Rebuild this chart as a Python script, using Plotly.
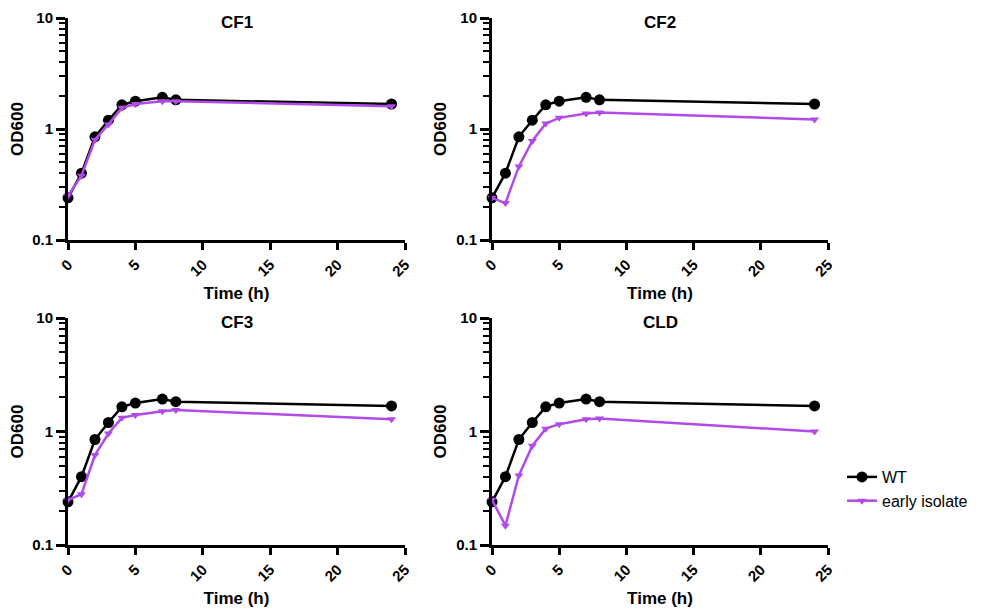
import plotly.graph_objects as go

# sampling times (h)
time_h = [0, 1, 2, 3, 4, 5, 7, 8, 24]

# OD600 readings
wt = [0.24, 0.40, 0.85, 1.20, 1.65, 1.78, 1.93, 1.83, 1.68]
cf1_early = [0.25, 0.38, 0.80, 1.10, 1.55, 1.68, 1.78, 1.78, 1.60]
cf2_early = [0.24, 0.215, 0.46, 0.78, 1.12, 1.26, 1.38, 1.41, 1.22]
cf3_early = [0.25, 0.28, 0.62, 0.96, 1.32, 1.40, 1.51, 1.55, 1.28]
cld_early = [0.25, 0.148, 0.41, 0.75, 1.06, 1.16, 1.28, 1.30, 1.00]

panel_names = ["CF1", "CF2", "CF3", "CLD"]
early_series = [cf1_early, cf2_early, cf3_early, cld_early]

W, H = 984, 614
OFF = 8  # page body margin
PURPLE = "#B04AE8"
FONT = "Liberation Sans, Arial, sans-serif"

# panel boxes in page pixels: (left, right, top, bottom)
boxes = [(68, 405, 18, 240), (492, 828, 18, 240),
         (68, 405, 318, 545), (492, 828, 318, 545)]


def fx(px):
    return (px - OFF) / W


def fy(py):
    return 1 - (py - OFF) / H


fig = go.Figure()
layout = {}

for i, (name, early, box) in enumerate(zip(panel_names, early_series, boxes)):
    n = "" if i == 0 else str(i + 1)
    xa, ya = "x" + n, "y" + n
    fig.add_trace(go.Scatter(
        x=time_h, y=wt, mode="lines+markers", name="WT",
        line=dict(color="black", width=2.5),
        marker=dict(symbol="circle", size=11, color="black"),
        xaxis=xa, yaxis=ya, showlegend=(i == 0), cliponaxis=False))
    fig.add_trace(go.Scatter(
        x=time_h, y=early, mode="lines+markers", name="early isolate",
        line=dict(color=PURPLE, width=2.5),
        marker=dict(symbol="triangle-down", size=8, color=PURPLE),
        xaxis=xa, yaxis=ya, showlegend=(i == 0), cliponaxis=False))

    l, r, t, b = box
    layout["xaxis" + n] = dict(
        domain=[fx(l), fx(r)], anchor=ya, range=[0, 25], automargin=False,
        tickvals=[0, 5, 10, 15, 20, 25], tickangle=-45,
        ticklabeloverflow="allow",
        ticks="outside", ticklen=7, tickwidth=3, tickcolor="black",
        showline=True, linewidth=3, linecolor="black",
        showgrid=False, zeroline=False,
        tickfont=dict(family=FONT, size=15, color="black", weight="bold"),
        title=dict(text="Time (h)", standoff=9,
                   font=dict(family=FONT, size=17, color="black", weight="bold")))
    layout["yaxis" + n] = dict(
        domain=[fy(b), fy(t)], anchor=xa, type="log", range=[-1, 1],
        automargin=False, ticklabeloverflow="allow",
        tickvals=[0.1, 1, 10], ticktext=["0.1", "1", "10"],
        ticks="outside", ticklen=9, tickwidth=3, tickcolor="black",
        minor=dict(tickvals=[k * 0.1 for k in range(2, 10)] + list(range(2, 10)),
                   ticks="outside", ticklen=6, tickwidth=2, tickcolor="black"),
        showline=True, linewidth=3, linecolor="black",
        showgrid=False, zeroline=False,
        tickfont=dict(family=FONT, size=15, color="black", weight="bold"),
        title=dict(text="OD600", standoff=6,
                   font=dict(family=FONT, size=17, color="black", weight="bold")))
    fig.add_annotation(
        text=name, x=fx((l + r) / 2), y=fy(t + 4), xref="paper", yref="paper",
        showarrow=False, xanchor="center", yanchor="middle",
        font=dict(family=FONT, size=17, color="black", weight="bold"))

fig.update_layout(
    **layout,
    width=W, height=H,
    margin=dict(l=0, r=0, t=0, b=0),
    paper_bgcolor="white", plot_bgcolor="white",
    legend=dict(x=fx(842), y=fy(460), xanchor="left", yanchor="top",
                font=dict(family=FONT, size=16, color="black"),
                bgcolor="rgba(0,0,0,0)", tracegroupgap=4),
)

fig.write_html("out.html")
